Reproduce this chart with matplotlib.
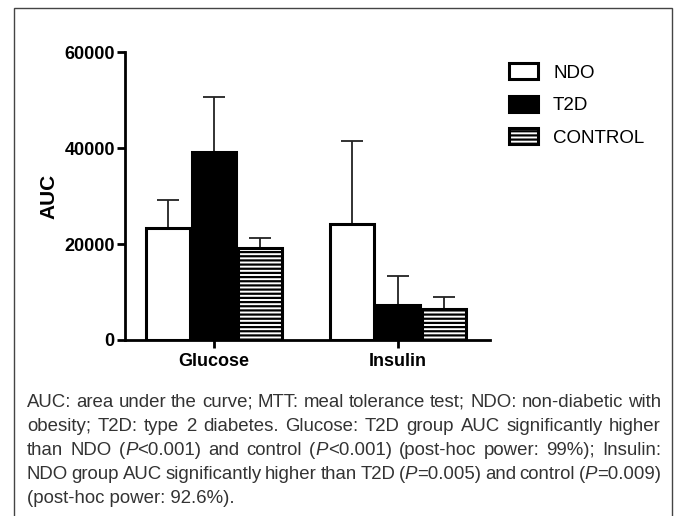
import math
import matplotlib
matplotlib.use("Agg")
import matplotlib.pyplot as plt
from matplotlib.patches import Rectangle
import numpy as np

# ---------------- data ----------------
categories = ["Glucose", "Insulin"]
groups = ["NDO", "T2D", "CONTROL"]
ndo_mean = [23400, 24200]
ndo_err = [5800, 17400]
t2d_mean = [39300, 7400]
t2d_err = [11400, 5900]
ctrl_mean = [19100, 6400]
ctrl_err = [2100, 2600]
yticks = [0, 20000, 40000, 60000]

caption_lines = [
    "AUC: area under the curve; MTT: meal tolerance test; NDO: non-diabetic with",
    "obesity; T2D: type 2 diabetes. Glucose: T2D group AUC significantly higher",
    "than NDO (*P*<0.001) and control (*P*<0.001) (post-hoc power: 99%); Insulin:",
    "NDO group AUC significantly higher than T2D (*P*=0.005) and control (*P*=0.009)",
    "(post-hoc power: 92.6%).",
]

plt.rcParams["font.family"] = ["Liberation Sans", "DejaVu Sans"]
plt.rcParams["hatch.linewidth"] = 1.6

W, H = 678, 516
fig = plt.figure(figsize=(W / 100, H / 100), dpi=100)

# outer frame
fig.patches.append(Rectangle((14 / W, -0.05), (672 - 14) / W, 1.05 - 8 / H,
                             transform=fig.transFigure, fill=False,
                             edgecolor="#444444", linewidth=1.0))

ax = fig.add_axes([124.5 / W, 1 - 340 / H, (490 - 124.5) / W, (340 - 52.3) / H])

x = np.arange(len(categories))
bw = 0.24
offs = [-0.25, 0.0, 0.25]
means = [ndo_mean, t2d_mean, ctrl_mean]
errs = [ndo_err, t2d_err, ctrl_err]
faces = ["white", "black", "white"]
hatches = [None, None, "----"]

handles = []
for i, g in enumerate(groups):
    b = ax.bar(x + offs[i], means[i], width=bw, color=faces[i], edgecolor="black",
               linewidth=2.2, hatch=hatches[i], label=g, zorder=3)
    handles.append(b)
    ax.errorbar(x + offs[i], means[i],
                yerr=[np.zeros(len(categories)), errs[i]],
                fmt="none", ecolor="#222222", elinewidth=1.3, capsize=8,
                capthick=1.3, zorder=2)

ax.set_xlim(-0.486, 1.5)
ax.set_ylim(0, 60000)
ax.set_yticks(yticks)
ax.set_yticklabels([str(v) for v in yticks])
ax.set_xticks(x)
ax.set_xticklabels(categories)
for s in ["top", "right"]:
    ax.spines[s].set_visible(False)
for s in ["left", "bottom"]:
    ax.spines[s].set_linewidth(2.0)
ax.tick_params(axis="both", width=2.0, length=5.5, pad=1.5, labelsize=13)
ax.tick_params(axis="x", length=6, pad=3)
for lab in ax.get_xticklabels() + ax.get_yticklabels():
    lab.set_fontweight("bold")
ax.set_ylabel("AUC", fontsize=15, fontweight="bold", labelpad=4)

leg = ax.legend(handles=handles, labels=groups, loc="upper left",
                bbox_to_anchor=(509 / W, 1 - 63 / H), bbox_transform=fig.transFigure,
                frameon=False, fontsize=13.5, handlelength=1.55, handleheight=0.95,
                handletextpad=0.8, labelspacing=0.75, borderaxespad=0, borderpad=0)

# ---------------- justified caption (word by word) ----------------
fig.canvas.draw()
renderer = fig.canvas.get_renderer()
cap_size = 13.4
cap_color = "#333333"
L, R = 27, 661
y0, dy = 407.3, 24   # baseline of first line, line pitch (px, from top)

try:
    from matplotlib.backends.backend_agg import get_hinting_flag
except Exception:
    get_hinting_flag = None


def frac_offset(txt):
    """fractional part of the raster offset Agg applies to this string"""
    try:
        font = renderer._prepare_font(txt.get_fontproperties())
        font.set_text(txt.get_text(), 0, flags=get_hinting_flag())
        d = font.get_descent() / 64.0
        yo = font.get_bitmap_offset()[1] / 64.0
        c = yo + d
        return c - math.floor(c)
    except Exception:
        return 0.0


def segs(word):
    parts = word.split("*")
    out = []
    for k, p in enumerate(parts):
        if p:
            out.append((p, k % 2 == 1))
    return out


def make(t, it):
    return fig.text(0, 0, t, fontsize=cap_size, color=cap_color,
                    style="italic" if it else "normal", va="baseline", ha="left")


for li, line in enumerate(caption_lines):
    ybase = y0 + li * dy
    if li == len(caption_lines) - 1:
        t = make(line.replace("*", ""), False)
        t.set_position((L / W, 1 - (ybase - frac_offset(t)) / H))
        continue
    words = line.split(" ")
    items = []
    for w in words:
        ts = []
        ww = 0
        for t, it in segs(w):
            txt = make(t, it)
            wd = txt.get_window_extent(renderer).width
            ts.append((txt, wd))
            ww += wd
        items.append((ts, ww))
    total = sum(i[1] for i in items)
    gap = (R - L - total) / (len(items) - 1)
    xp = L
    for ts, ww in items:
        xx = xp
        for txt, wd in ts:
            yy = ybase - frac_offset(txt)
            txt.set_position((xx / W, 1 - yy / H))
            xx += wd
        xp += ww + gap

fig.savefig("out.png", dpi=100)
